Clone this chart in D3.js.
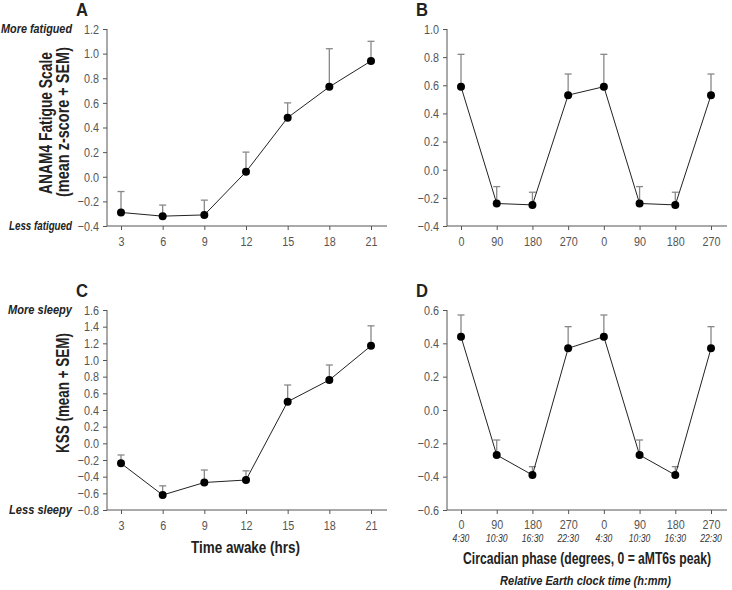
<!DOCTYPE html>
<html>
<head>
<meta charset="utf-8">
<script src="https://cdn.jsdelivr.net/npm/d3@7"></script>
<style>
  body { margin: 0; background: #fff; }
  svg { display: block; }
  .tick text { font-family: "Liberation Sans", Arial, sans-serif; font-size: 13.5px; fill: #555; }
  .domain, .tick line { stroke: #555; }
</style>
</head>
<body>
<svg id="chart" width="732" height="590"></svg>
<script>
// time awake (hrs)
const hours = [3, 6, 9, 12, 15, 18, 21];
// circadian phase, double plotted
const phaseLabels = ["0", "90", "180", "270", "0", "90", "180", "270"];
const clockLabels = ["4:30", "10:30", "16:30", "22:30", "4:30", "10:30", "16:30", "22:30"];

// ANAM4 fatigue, mean and mean+SEM
const fatigueWake = [-0.29, -0.32, -0.31, 0.04, 0.48, 0.73, 0.94];
const fatigueWakeTop = [-0.12, -0.23, -0.19, 0.20, 0.60, 1.04, 1.10];
const fatiguePhase = [0.59, -0.24, -0.25, 0.53, 0.59, -0.24, -0.25, 0.53];
const fatiguePhaseTop = [0.82, -0.12, -0.16, 0.68, 0.82, -0.12, -0.16, 0.68];

// KSS, mean and mean+SEM
const kssWake = [-0.24, -0.62, -0.47, -0.44, 0.50, 0.76, 1.17];
const kssWakeTop = [-0.14, -0.51, -0.32, -0.33, 0.70, 0.94, 1.41];
const kssPhase = [0.44, -0.27, -0.39, 0.37, 0.44, -0.27, -0.39, 0.37];
const kssPhaseTop = [0.57, -0.18, -0.34, 0.50, 0.57, -0.18, -0.34, 0.50];

const svg = d3.select("#chart");
const font = '"Liberation Sans", Arial, sans-serif';

// bold text squeezed horizontally to a given width (reference uses a narrow face)
function label(x, y, t, w, o = {}) {
  const el = svg.append("text")
    .attr("text-anchor", o.anchor || "middle")
    .style("font-family", font).style("font-weight", "bold")
    .style("font-style", o.italic ? "italic" : "normal")
    .style("font-size", (o.size || 17) + "px").style("fill", "#222")
    .text(t);
  const sx = w / el.node().getComputedTextLength();
  if (o.rotate) el.attr("transform", `translate(${x},${y}) rotate(-90) scale(${sx},1)`);
  else el.attr("transform", `translate(${x},${y}) scale(${sx},1)`);
  return el;
}

function panel(opt) {
  const g = svg.append("g");
  const x = d3.scalePoint().domain(opt.cats.map((c, i) => i))
    .range([opt.x0 + 14, opt.x1 - 16]);
  const y = d3.scaleLinear().domain(opt.yDomain).range([opt.yb, opt.yt]);

  const yAxis = d3.axisLeft(y).tickValues(opt.yTicks).tickFormat(d3.format(".1f")).tickSize(4).tickPadding(6);
  g.append("g").attr("transform", `translate(${opt.x0},0)`).call(yAxis)
    .call(a => a.select(".domain").attr("d", `M0,${opt.yt}V${opt.yb}`))
    .call(a => a.selectAll(".tick text").attr("transform", "scale(0.8,1)"));
  const xAxis = d3.axisBottom(x).tickFormat(i => opt.cats[i]).tickSize(4).tickPadding(opt.sub ? 5 : 6);
  g.append("g").attr("transform", `translate(0,${opt.yb})`).call(xAxis)
    .call(a => a.select(".domain").attr("d", `M${opt.x0},0H${opt.x1}`))
    .call(a => a.selectAll(".tick text").attr("transform", "scale(0.8,1)"));

  if (opt.sub) {
    g.selectAll(".sub").data(opt.sub).enter().append("text")
      .attr("transform", (d, i) => `translate(${x(i)},${opt.yb + 32}) scale(0.82,1)`)
      .attr("text-anchor", "middle")
      .style("font-family", font).style("font-size", "10.5px")
      .style("font-style", "italic").style("fill", "#333")
      .text(d => d);
  }

  // error bars (upper SEM only)
  const eb = g.append("g").attr("stroke", "#888").attr("stroke-width", 1.3);
  opt.top.forEach((t, i) => {
    eb.append("line").attr("x1", x(i)).attr("x2", x(i)).attr("y1", y(opt.vals[i])).attr("y2", y(t));
    eb.append("line").attr("x1", x(i) - 3.5).attr("x2", x(i) + 3.5).attr("y1", y(t)).attr("y2", y(t));
  });

  g.append("path").datum(opt.vals)
    .attr("fill", "none").attr("stroke", "#222").attr("stroke-width", 1)
    .attr("d", d3.line().x((d, i) => x(i)).y(d => y(d)));

  g.selectAll(".dot").data(opt.vals).enter().append("circle")
    .attr("cx", (d, i) => x(i)).attr("cy", d => y(d)).attr("r", 4).attr("fill", "#000");

  label(opt.x0 - 31, opt.yt - 13.5, opt.letter, 12, { anchor: "start", size: 18 });

  if (opt.hi) {
    label(72, opt.yt + 4, opt.hi[0], opt.hi[1], { anchor: "end", italic: true, size: 13 });
    label(72, opt.yb + 4, opt.lo[0], opt.lo[1], { anchor: "end", italic: true, size: 13 });
  }
  if (opt.ytitle) {
    opt.ytitle.forEach(([t, w, tx, ty]) => label(tx, ty, t, w, { rotate: true, size: 17.5 }));
  }
  return { x, y };
}

panel({ letter: "A", cats: hours, vals: fatigueWake, top: fatigueWakeTop,
  x0: 107, x1: 387, yt: 29, yb: 226, yDomain: [-0.4, 1.2], yTicks: d3.range(-0.4, 1.21, 0.2),
  hi: ["More fatigued", 71], lo: ["Less fatigued", 63],
  ytitle: [["ANAM4 Fatigue Scale", 142, 52, 123], ["(mean z-score + SEM)", 150, 69, 122]] });

panel({ letter: "B", cats: phaseLabels, vals: fatiguePhase, top: fatiguePhaseTop,
  x0: 447, x1: 727, yt: 29, yb: 226, yDomain: [-0.4, 1.0], yTicks: d3.range(-0.4, 1.01, 0.2) });

panel({ letter: "C", cats: hours, vals: kssWake, top: kssWakeTop,
  x0: 107, x1: 387, yt: 310, yb: 510, yDomain: [-0.8, 1.6], yTicks: d3.range(-0.8, 1.61, 0.2),
  hi: ["More sleepy", 64], lo: ["Less sleepy", 63],
  ytitle: [["KSS (mean + SEM)", 120, 69, 393]] });

panel({ letter: "D", cats: phaseLabels, sub: clockLabels, vals: kssPhase, top: kssPhaseTop,
  x0: 447, x1: 727, yt: 310, yb: 510, yDomain: [-0.6, 0.6], yTicks: d3.range(-0.6, 0.61, 0.2) });

// x axis titles
label(245.5, 553, "Time awake (hrs)", 109);
label(587, 564, "Circadian phase (degrees, 0 = aMT6s peak)", 248);
label(585.5, 585, "Relative Earth clock time (h:mm)", 171, { italic: true, size: 13.5 });
</script>
</body>
</html>
